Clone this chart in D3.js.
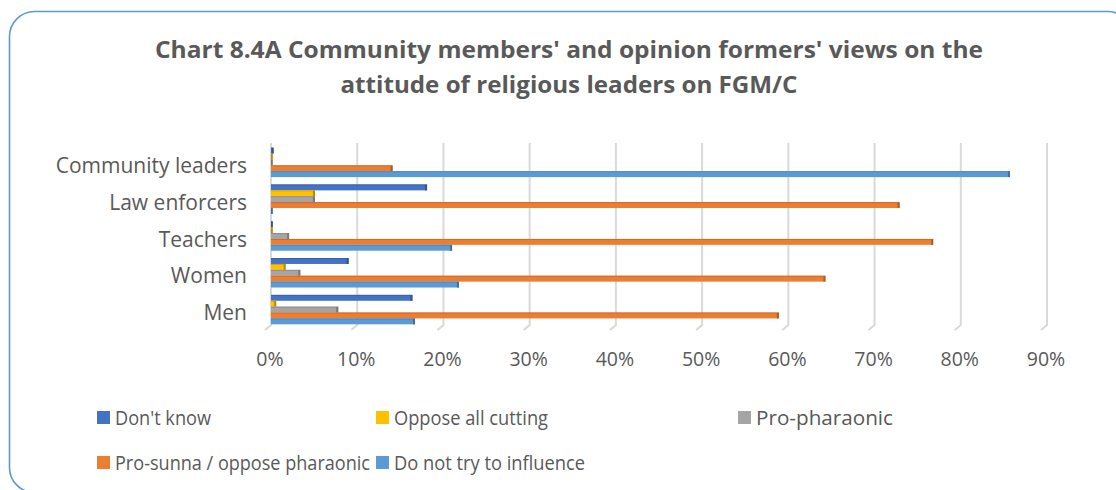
<!DOCTYPE html>
<html>
<head>
<meta charset="utf-8">
<script src="https://cdn.jsdelivr.net/npm/d3@7"></script>
<style>
  html, body { margin: 0; padding: 0; background: #ffffff; }
  svg { display: block; }
  text { font-family: "Open Sans", "Noto Sans", sans-serif; fill: #595959; }
</style>
</head>
<body>
<svg id="chart" width="1116" height="490"></svg>
<script>
// Respondent groups, top to bottom
const categories = ["Community leaders", "Law enforcers", "Teachers", "Women", "Men"];

// Share of respondents (%) per view, one value per group
const dontKnow     = [0.3, 18.1, 0.2, 9.0, 16.4];
const opposeAll    = [0.2, 5.1, 0.2, 1.7, 0.6];
const proPharaonic = [0.2, 5.1, 2.1, 3.4, 7.8];
const proSunna     = [14.1, 72.9, 76.8, 64.3, 58.9];
const doNotTry     = [85.7, 0.2, 21.0, 21.8, 16.7];

const seriesNames = ["Don't know", "Oppose all cutting", "Pro-pharaonic",
                     "Pro-sunna / oppose pharaonic", "Do not try to influence"];
const seriesColors = ["#4472c4", "#ffc000", "#a5a5a5", "#ed7d31", "#5b9bd5"];
const seriesValues = [dontKnow, opposeAll, proPharaonic, proSunna, doNotTry];

const tickValues = [0, 10, 20, 30, 40, 50, 60, 70, 80, 90];
const tickLabels = ["0%", "10%", "20%", "30%", "40%", "50%", "60%", "70%", "80%", "90%"];

const titleLines = ["Chart 8.4A Community members' and opinion formers' views on the",
                    "attitude of religious leaders on FGM/C"];

const svg = d3.select("#chart");

// Chart frame
svg.append("rect")
  .attr("x", 9.5).attr("y", 11.5)
  .attr("width", 1123).attr("height", 481)
  .attr("rx", 25).attr("ry", 25)
  .attr("fill", "#ffffff")
  .attr("stroke", "#5b9bd5").attr("stroke-width", 1.6);

// Title
const titleLen = [828, 457];
svg.selectAll("text.title")
  .data(titleLines)
  .join("text")
  .attr("class", "title")
  .attr("x", 569)
  .attr("y", (d, i) => 58 + i * 35)
  .attr("text-anchor", "middle")
  .attr("font-size", 23)
  .attr("font-weight", "bold")
  .attr("textLength", (d, i) => titleLen[i])
  .attr("lengthAdjust", "spacingAndGlyphs")
  .text(d => d);

// Scales
const x = d3.scaleLinear().domain([0, 90]).range([271, 1047]);
const y = d3.scaleBand().domain(categories).range([144, 328])
  .paddingInner(0.2).paddingOuter(0.1);
const ySub = d3.scaleBand().domain(d3.range(seriesNames.length))
  .range([0, y.bandwidth()]);

// Gridlines with a small perspective foot
svg.append("g")
  .selectAll("path")
  .data(tickValues)
  .join("path")
  .attr("d", d => `M${x(d)},143 V325 L${x(d) - 6},330`)
  .attr("fill", "none")
  .attr("stroke", "#d9d9d9")
  .attr("stroke-width", 2);

// Axis tick labels
const xAxis = d3.axisBottom(x)
  .tickValues(tickValues)
  .tickFormat((d, i) => tickLabels[i])
  .tickSize(0)
  .tickPadding(0);
const gx = svg.append("g").attr("transform", "translate(-1.5,352)").call(xAxis);
gx.select(".domain").remove();
gx.selectAll("text")
  .attr("font-size", 19.5)
  .attr("fill", "#595959")
  .attr("font-family", "'Open Sans', sans-serif")
  .attr("dy", "0.72em");

// Category labels
svg.append("g")
  .selectAll("text")
  .data(categories)
  .join("text")
  .attr("x", 247)
  .attr("y", d => y(d) + y.bandwidth() / 2 + 10.5)
  .attr("text-anchor", "end")
  .attr("font-size", 21)
  .text(d => d);

// Bars
const barData = [];
seriesValues.forEach((vals, s) => {
  vals.forEach((v, c) => barData.push({ s, cat: categories[c], v }));
});

const bars = svg.append("g")
  .selectAll("g")
  .data(barData)
  .join("g")
  .attr("transform", d => `translate(0,${y(d.cat) + ySub(d.s)})`);

bars.append("rect")
  .attr("x", x(0))
  .attr("y", 0)
  .attr("width", d => x(d.v) - x(0))
  .attr("height", ySub.bandwidth())
  .attr("fill", d => seriesColors[d.s]);

// darker end face
bars.append("rect")
  .attr("x", d => Math.max(x(0), x(d.v) - 2))
  .attr("y", 0)
  .attr("width", d => Math.min(2, x(d.v) - x(0)))
  .attr("height", ySub.bandwidth())
  .attr("fill", d => d3.color(seriesColors[d.s]).darker(0.9));

// top edge
bars.append("rect")
  .attr("x", x(0))
  .attr("y", 0)
  .attr("width", d => Math.max(0, x(d.v) - x(0) - 2))
  .attr("height", 1)
  .attr("fill", d => d3.color(seriesColors[d.s]).darker(0.4));

// Legend
const legendPos = [
  { x: 97, y: 425 }, { x: 376, y: 425 }, { x: 738, y: 425 },
  { x: 97, y: 470 }, { x: 376, y: 470 }
];
const legendTextLen = [96, 154, 137, 255, 191];
const legend = svg.append("g")
  .selectAll("g")
  .data(seriesNames)
  .join("g")
  .attr("transform", (d, i) => `translate(${legendPos[i].x},${legendPos[i].y})`);

legend.append("rect")
  .attr("x", 0).attr("y", -14)
  .attr("width", 13).attr("height", 13)
  .attr("fill", (d, i) => seriesColors[i]);

legend.append("text")
  .attr("x", 18).attr("y", 0)
  .attr("font-size", 19.5)
  .attr("textLength", (d, i) => legendTextLen[i])
  .attr("lengthAdjust", "spacingAndGlyphs")
  .text(d => d);
</script>
</body>
</html>
